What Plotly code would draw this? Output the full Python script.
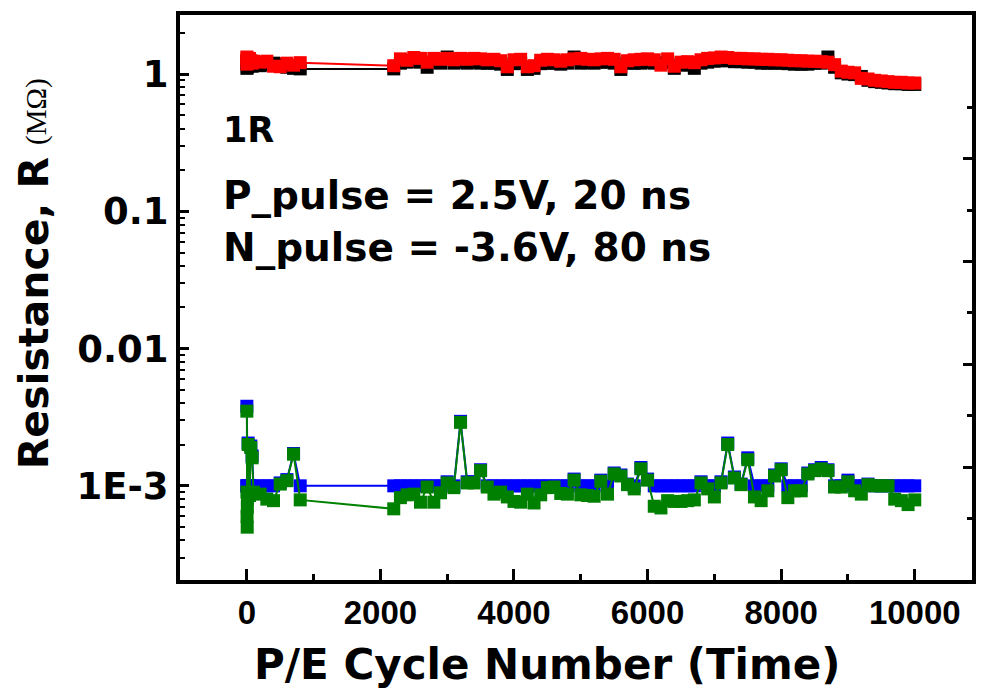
import plotly.graph_objects as go

# P/E cycle numbers: dense sampling at the start, then every 100 cycles
cycles_early = [1, 2, 4, 6, 8, 10, 20, 40, 60, 80, 100, 200, 300, 400, 500, 600, 700, 800]
cycles_main = list(range(2200, 10001, 100))

# High-resistance state (MΩ)
red_early = [1.33, 1.18, 1.25, 1.30, 1.20, 1.28, 1.22, 1.30, 1.25, 1.20, 1.24, 1.22, 1.24, 1.14, 1.13, 1.20, 1.16, 1.21]
red_main = [
    1.15, 1.29, 1.26, 1.32, 1.30, 1.22, 1.30, 1.28, 1.30, 1.27,
    1.30, 1.28, 1.30, 1.29, 1.27, 1.28, 1.25, 1.13, 1.27, 1.28,
    1.13, 1.15, 1.26, 1.28, 1.27, 1.24, 1.27, 1.29, 1.30, 1.28,
    1.27, 1.29, 1.30, 1.28, 1.13, 1.25, 1.27, 1.28, 1.29, 1.27,
    1.16, 1.29, 1.14, 1.22, 1.23, 1.21, 1.27, 1.30, 1.31, 1.33,
    1.32, 1.30, 1.30, 1.29, 1.29, 1.28, 1.28, 1.27, 1.27, 1.26,
    1.25, 1.25, 1.24, 1.24, 1.23, 1.22, 1.17, 1.05, 1.03, 1.02,
    0.93, 0.92, 0.90, 0.89, 0.88, 0.87, 0.87, 0.86, 0.86,
]
black_early = [1.25, 1.10, 1.18, 1.22, 1.12, 1.20, 1.15, 1.22, 1.18, 1.14, 1.16, 1.15, 1.17, 1.20, 1.18, 1.12, 1.10, 1.09]
black_main = [
    1.09, 1.20, 1.22, 1.24, 1.22, 1.12, 1.22, 1.20, 1.33, 1.20,
    1.22, 1.20, 1.22, 1.20, 1.20, 1.20, 1.18, 1.08, 1.19, 1.20,
    1.08, 1.10, 1.19, 1.20, 1.20, 1.18, 1.20, 1.33, 1.20, 1.21,
    1.20, 1.22, 1.22, 1.20, 1.08, 1.20, 1.20, 1.20, 1.22, 1.20,
    1.20, 1.22, 1.10, 1.17, 1.16, 1.10, 1.20, 1.22, 1.24, 1.25,
    1.25, 1.23, 1.23, 1.22, 1.22, 1.20, 1.20, 1.20, 1.20, 1.19,
    1.18, 1.18, 1.18, 1.20, 1.20, 1.33, 1.12, 1.02, 1.00, 0.99,
    0.96, 0.90, 0.88, 0.87, 0.86, 0.85, 0.85, 0.84, 0.84,
]

# Low-resistance state (kΩ, converted to MΩ when plotted)
blue_early = [3.8, 1.0, 1.0, 1.0, 1.0, 1.0, 2.05, 1.0, 1.95, 1.65, 1.0, 1.0, 1.0, 1.0, 1.05, 1.11, 1.72, 1.0]
blue_main = [
    1.0, 1.0, 1.0, 1.0, 1.0, 1.0, 1.0, 1.0, 1.07, 1.0,
    2.95, 1.07, 1.07, 1.31, 1.0, 1.0, 1.0, 1.0, 1.0, 1.0,
    1.0, 1.0, 1.0, 1.0, 1.0, 1.0, 1.0, 1.12, 1.0, 1.0,
    1.0, 1.1, 1.0, 1.24, 1.2, 1.03, 1.0, 1.36, 1.12, 1.0,
    1.0, 1.0, 1.0, 1.0, 1.0, 1.0, 1.07, 1.0, 1.0, 1.07,
    2.05, 1.16, 1.03, 1.6, 1.0, 1.0, 1.0, 1.2, 1.33, 1.0,
    1.0, 1.0, 1.24, 1.31, 1.36, 1.31, 1.0, 1.0, 1.1, 1.0,
    1.0, 1.03, 1.0, 1.0, 1.0, 1.0, 1.0, 1.0, 1.0,
]
green_early = [3.5, 0.9, 0.6, 0.5, 0.7, 0.8, 2.0, 0.85, 1.9, 1.6, 0.9, 0.87, 0.8, 0.78, 1.03, 1.09, 1.7, 0.79]
green_main = [
    0.68, 0.82, 0.86, 0.87, 0.76, 0.98, 0.76, 0.89, 1.05, 0.97,
    2.9, 1.05, 1.05, 1.29, 0.98, 0.87, 0.90, 0.83, 0.77, 0.76,
    0.87, 0.75, 0.86, 0.97, 0.98, 0.88, 0.87, 1.10, 0.86, 0.85,
    0.84, 1.08, 0.87, 1.22, 1.18, 1.02, 0.95, 1.33, 1.10, 0.71,
    0.69, 0.78, 0.77, 0.77, 0.78, 0.79, 1.05, 0.95, 0.83, 1.05,
    2.0, 1.14, 1.02, 1.55, 0.83, 0.78, 0.92, 1.18, 1.31, 0.82,
    0.92, 0.92, 1.22, 1.29, 1.33, 1.29, 0.98, 0.98, 1.07, 0.92,
    0.87, 1.02, 1.00, 1.00, 1.00, 0.80, 0.78, 0.73, 0.79,
]

x_ticks = [0, 2000, 4000, 6000, 8000, 10000]
x_ticktext = ["0", "2000", "4000", "6000", "8000", "10000"]
x_minor = [1000, 3000, 5000, 7000, 9000]
y_ticks = [0.001, 0.01, 0.1, 1]
y_ticktext = ["1E-3", "0.01", "0.1", "1"]

cycles = cycles_early + cycles_main
series = [
    ("black", black_early + black_main, 1.0),
    ("#ff0000", red_early + red_main, 1.0),
    ("#0000ff", blue_early + blue_main, 1e-3),
    ("#008000", green_early + green_main, 1e-3),
]

fig = go.Figure()
for color, vals, unit in series:
    fig.add_trace(go.Scatter(
        x=cycles, y=[v * unit for v in vals], mode="lines+markers",
        line=dict(color=color, width=2),
        marker=dict(symbol="square", size=13, color=color, line=dict(width=0)),
        showlegend=False, hoverinfo="skip",
    ))
# empty trace so the right-hand tick axis is created
fig.add_trace(go.Scatter(x=[], y=[], yaxis="y2", showlegend=False))

minor_log = [k * 10.0 ** e for e in range(-4, 1) for k in range(2, 10)]

fig.update_layout(
    width=987, height=695,
    margin=dict(l=180, r=11, t=15, b=115),
    plot_bgcolor="white", paper_bgcolor="white",
    xaxis=dict(
        range=[-1000, 10857], tickmode="array", tickvals=x_ticks, ticktext=x_ticktext,
        ticks="inside", ticklen=11, tickwidth=3, tickcolor="black",
        minor=dict(tickmode="array", tickvals=x_minor, ticks="inside", ticklen=6, tickwidth=3, tickcolor="black"),
        showline=True, linewidth=4, linecolor="black", mirror=True,
        showgrid=False, zeroline=False,
        tickfont=dict(family="Liberation Sans", size=33, color="black", weight="bold"),
    ),
    yaxis=dict(
        type="log", range=[-3.686, 0.43], tickmode="array", tickvals=y_ticks, ticktext=y_ticktext,
        ticks="inside", ticklen=9, tickwidth=3, tickcolor="black",
        minor=dict(tickmode="array", tickvals=minor_log, ticks="inside", ticklen=5, tickwidth=2, tickcolor="black"),
        showline=True, linewidth=4, linecolor="black", mirror=True,
        showgrid=False, zeroline=False,
        tickfont=dict(family="DejaVu Sans", size=37, color="black", weight="bold"),
    ),
    yaxis2=dict(
        overlaying="y", side="right", range=[-0.1, 5.4],
        tickmode="array", tickvals=[1, 2, 3, 4], showticklabels=False,
        ticks="inside", ticklen=9, tickwidth=3, tickcolor="black",
        minor=dict(tickmode="array", tickvals=[0.5, 1.5, 2.5, 3.5, 4.5], ticks="inside", ticklen=5, tickwidth=3, tickcolor="black"),
        showgrid=False, zeroline=False, showline=False,
    ),
)

txt_font = dict(family="DejaVu Sans", color="black", weight="bold")
fig.add_annotation(text="1R", xref="paper", yref="paper", x=0.052, y=0.796,
                   xanchor="left", yanchor="middle", showarrow=False, font=dict(size=35, **txt_font))
fig.add_annotation(text="P_pulse = 2.5V, 20 ns", xref="paper", yref="paper", x=0.052, y=0.681,
                   xanchor="left", yanchor="middle", showarrow=False, font=dict(size=39, **txt_font))
fig.add_annotation(text="N_pulse = -3.6V, 80 ns", xref="paper", yref="paper", x=0.052, y=0.589,
                   xanchor="left", yanchor="middle", showarrow=False, font=dict(size=39, **txt_font))
# x-axis title
fig.add_annotation(text="P/E Cycle Number (Time)", xref="paper", yref="paper", x=0.4636, y=-0.149,
                   xanchor="center", yanchor="middle", showarrow=False, font=dict(size=42, **txt_font))
# rotated y-axis title: bold sans part plus serif unit
fig.add_annotation(text="Resistance, R", xref="paper", yref="paper", x=-0.185, y=0.473,
                   textangle=-90, xanchor="center", yanchor="middle", showarrow=False,
                   font=dict(size=41, **txt_font))
fig.add_annotation(text="(MΩ)", xref="paper", yref="paper", x=-0.182, y=0.830,
                   textangle=-90, xanchor="center", yanchor="middle", showarrow=False,
                   font=dict(family="Liberation Serif", size=29, color="black"))

fig.write_html("out.html")
